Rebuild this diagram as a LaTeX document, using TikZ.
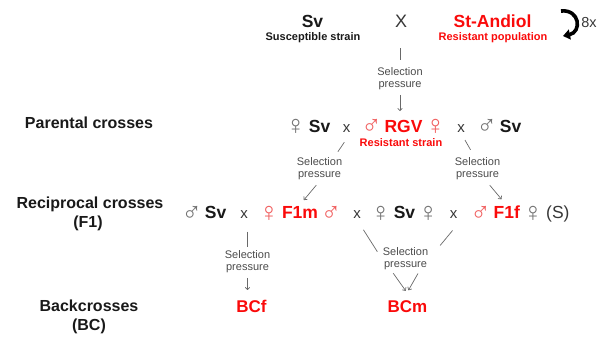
\documentclass[tikz,border=0pt]{standalone}
\usepackage{fontspec}
\setmainfont{Liberation Sans}
\usetikzlibrary{arrows.meta}
\usetikzlibrary{positioning}

\definecolor{resred}{RGB}{250,10,10}
\definecolor{symred}{RGB}{240,95,95}
\definecolor{symgray}{RGB}{115,115,115}
\definecolor{crossgray}{RGB}{55,55,55}
\definecolor{selgray}{RGB}{75,75,75}
\definecolor{linegray}{RGB}{105,105,105}
\definecolor{txt}{RGB}{25,25,25}

% sex symbols, thin, in grey or red
\newcommand{\symsize}{\fontsize{27}{27}\selectfont\mdseries}
\newcommand{\gfem}{\raisebox{-2.5pt}{\symsize\color{symgray}♀}}
\newcommand{\gmal}{\raisebox{-2.5pt}{\symsize\color{symgray}♂}}
\newcommand{\rfem}{\raisebox{-2.5pt}{\symsize\color{symred}♀}}
\newcommand{\rmal}{\raisebox{-2.5pt}{\symsize\color{symred}♂}}
\newcommand{\gap}{\hspace{3pt}}

\tikzset{
  rowlab/.style={font=\fontsize{16}{18}\selectfont\bfseries, text=txt, anchor=base, inner sep=1pt},
  strain/.style={font=\fontsize{17.5}{20}\selectfont\bfseries, text=txt, anchor=base, inner sep=1pt},
  resist/.style={strain, text=resred},
  subtxt/.style={font=\fontsize{11}{13}\selectfont\bfseries, anchor=base, inner sep=1pt},
  cross/.style={font=\fontsize{15}{18}\selectfont, text=crossgray, anchor=base, inner sep=1pt},
  selp/.style={font=\fontsize{11}{12}\selectfont, text=selgray, align=center, inner sep=1pt},
  conn/.style={draw=linegray, line width=0.7pt},
  arr/.style={conn, -{To[length=3pt,width=5pt]}},
  looparr/.style={draw=black, line width=3.6pt, -{Triangle[length=7pt,width=10pt]}}
}

\begin{document}
\begin{tikzpicture}[x=1pt, y=-1pt]
  \useasboundingbox (0,0) rectangle (610,337);

  % row labels
  \node[rowlab] (parlab) at (89,128.5) {Parental crosses};
  \node[rowlab] (reclab) at (90,208.5) {Reciprocal crosses};
  \node[rowlab] (reclabb) at (88,227.5) {(F1)};
  \node[rowlab] (bclab) at (89,311.5) {Backcrosses};
  \node[rowlab] (bclabb) at (89,330.5) {(BC)};

  % top row
  \node[strain] (sv0) at (312.5,28) {Sv};
  \node[subtxt, text=txt] (sv0sub) at (313,40.5) {Susceptible strain};
  \node[cross, font=\fontsize{18}{20}\selectfont] (cx0) at (401,28) {X};
  \node[resist] (st0) at (492.5,28) {St-Andiol};
  \node[subtxt, text=resred] (st0sub) at (493,40.5) {Resistant population};
  \node[cross, font=\fontsize{14.5}{16}\selectfont] (eightx) at (589,28) {8x};
  \coordinate (loopa) at (561,11);
  \coordinate (loopb) at (563,36);
  \draw[looparr] (loopa) .. controls (580,9) and (582,32) .. (loopb);

  % parental crosses
  \node[strain] (p1) at (308,132) {\gfem\gap Sv};
  \node[resist] (p2) at (403.5,132) {\rmal\gap RGV\gap\rfem};
  \node[subtxt, text=resred] (p2sub) at (401,146.5) {Resistant strain};
  \node[strain] (p3) at (499,132) {\gmal\gap Sv};

  % reciprocal crosses
  \node[strain] (f1) at (204,218.5) {\gmal\gap Sv};
  \node[resist] (f2) at (300,218.5) {\rfem\gap F1m\gap\rmal};
  \node[strain] (f3) at (404.5,218.5) {\gfem\gap Sv\gap\gfem};
  \node[resist] (f4) at (520,218.5) {\rmal\gap F1f\gap\gfem\gap{\mdseries\color{crossgray}(S)}};

  % backcrosses
  \node[resist, font=\fontsize{17}{20}\selectfont\bfseries] (bcf) at (251.5,312.5) {BCf};
  \node[resist, font=\fontsize{17}{20}\selectfont\bfseries] (bcm) at (407.5,312) {BCm};

  % the small x between the mates
  \foreach \nm/\xc/\yc in {
    px1/346.5/132,
    px2/461/132,
    fx1/244/218.5,
    fx2/357/218.5,
    fx3/453.5/218.5
  }{
    \node[cross] (\nm) at (\xc,\yc) {x};
  }

  % selection pressure labels
  \foreach \nm/\xc/\yc in {
    sel0/400/78.5,
    sel1/319.5/169,
    sel2/477.5/169,
    sel3/405.5/258.5,
    sel4/247.5/261.5
  }{
    \node[selp] (\nm) at (\xc,\yc) {Selection\\pressure};
  }

  % top cross to parental crosses
  \draw[conn, shorten <=19pt, shorten >=6pt] (sel0.north |- cx0.south) -- (sel0.north);
  \draw[arr, shorten <=4pt, shorten >=7pt] (sel0.south) -- (sel0.south |- p2.north);

  % parental crosses to F1
  \draw[conn, shorten <=11pt, shorten >=6pt] ([xshift=4pt]px1.south) -- ([xshift=15pt]sel1.north);
  \draw[conn, shorten <=8pt, shorten >=8pt] (px2.south) -- ([xshift=-3pt]sel2.north);
  \draw[arr, shorten <=5pt, shorten >=6pt] (sel1.south) -- (f2.north);
  \draw[arr, shorten <=5pt, shorten >=7pt] ([xshift=9pt]sel2.south) -- ([xshift=-14pt]f4.north);

  % F1 to backcrosses
  \draw[conn, shorten <=12pt, shorten >=2pt] (sel4.north |- fx1.south) -- (sel4.north);
  \draw[arr, shorten <=4pt, shorten >=9pt] (sel4.south) -- (sel4.south |- bcf.north);
  \draw[conn, shorten <=12pt, shorten >=8pt] (fx2.south) -- (sel3.west);
  \draw[conn, shorten <=14pt, shorten >=17pt] ([xshift=8pt]fx3.south) -- (sel3.east);
  \draw[arr, shorten <=3pt, shorten >=10pt] ([xshift=-14pt]sel3.south) -- ([xshift=4pt]bcm.north);
  \draw[arr, shorten <=3pt, shorten >=10pt] ([xshift=14pt]sel3.south) -- ([xshift=-4pt]bcm.north);
\end{tikzpicture}
\end{document}
